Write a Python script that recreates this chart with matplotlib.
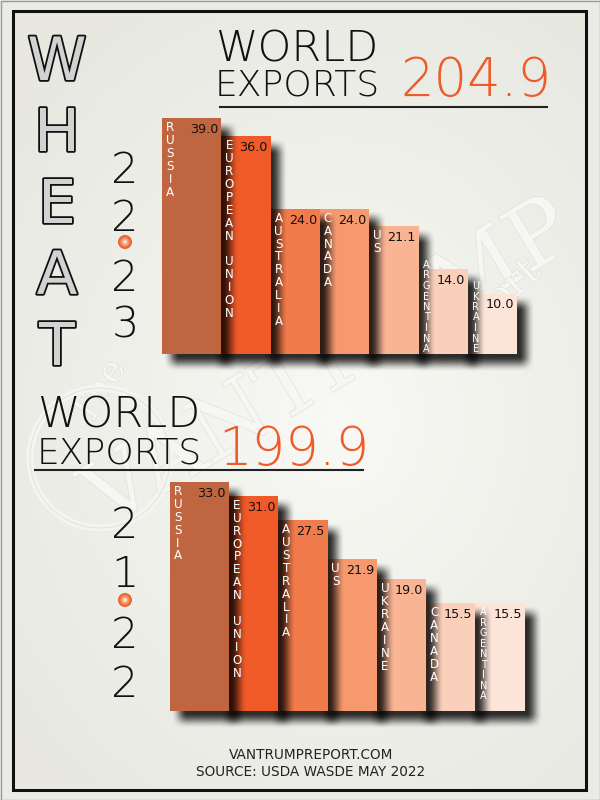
"""Wheat world exports 22/23 vs 21/22 — two stepped bar charts on one poster."""

import matplotlib

matplotlib.use("Agg")
import matplotlib.pyplot as plt
import matplotlib.patheffects as pe
from matplotlib.patches import Rectangle, Circle
from matplotlib.transforms import offset_copy
import numpy as np

# ---- data ----
countries_2223 = ["RUSSIA", "EUROPEAN UNION", "AUSTRALIA", "CANADA", "US", "ARGENTINA", "UKRAINE"]
exports_2223 = [39.0, 36.0, 24.0, 24.0, 21.1, 14.0, 10.0]
total_2223 = 204.9

countries_2122 = ["RUSSIA", "EUROPEAN UNION", "AUSTRALIA", "US", "UKRAINE", "CANADA", "ARGENTINA"]
exports_2122 = [33.0, 31.0, 27.5, 21.9, 19.0, 15.5, 15.5]
total_2122 = 199.9

bar_colors = ["#bf6641", "#f05a28", "#f27b4b", "#f6996f", "#f9b494", "#fbd0bb", "#fde4d8"]
ORANGE = "#f05a28"

W, H = 600, 800
fig = plt.figure(figsize=(6, 8), dpi=100)
fig.patch.set_facecolor("#eaeae6")

# background layer in pixel coords
bg = fig.add_axes([0, 0, 1, 1])
bg.set_xlim(0, W)
bg.set_ylim(H, 0)
bg.axis("off")

yy, xx = np.mgrid[0:H, 0:W]
r = np.clip(np.hypot((xx - 340) / 430, (yy - 420) / 500), 0, 1)
center_c = np.array([0.975, 0.975, 0.96])
edge_c = np.array([0.91, 0.91, 0.885])
grad = center_c * (1 - r[..., None]) + edge_c * r[..., None]
bg.imshow(grad, extent=(13, 587, 790, 11), aspect="auto", zorder=0)
bg.add_patch(Rectangle((0.5, 0.5), W - 1, H - 1, fill=False, ec="#9a9a9a", lw=1, zorder=1))
bg.add_patch(Rectangle((13, 11), 573, 779, fill=False, ec="#111111", lw=2.2, zorder=1))

# faint watermark
wm = [pe.withStroke(linewidth=1.0, foreground="#e2e2dc")]
bg.text(330, 365, "VANTRUMP", rotation=31, fontsize=64, family="DejaVu Serif",
        color="#f6f6f2", ha="center", va="center", zorder=2, path_effects=wm)
bg.text(485, 312, "Report", rotation=42, fontsize=28, family="DejaVu Serif",
        color="#f6f6f2", ha="center", va="center", zorder=2, path_effects=wm)
bg.text(100, 392, "The", rotation=58, fontsize=26, family="DejaVu Serif",
        color="#f6f6f2", ha="center", va="center", zorder=2, path_effects=wm)
bg.add_patch(Circle((100, 458), 70, fill=False, ec="#f4f4f0", lw=5, zorder=2))
bg.add_patch(Circle((100, 458), 70, fill=False, ec="#e2e2dc", lw=0.7, zorder=2))

# WHEAT column
for k, ch in enumerate("WHEAT"):
    bg.text(57, 80 + 71.3 * k, ch, fontsize=43, ha="center", va="baseline",
            family="DejaVu Sans", color="#d2d2d2", zorder=3,
            path_effects=[pe.Stroke(linewidth=2.6, foreground="#111111"), pe.Normal()])

TITLE = dict(family="DejaVu Sans", weight="light", zorder=3)


def year_column(digits, baselines, dot_y):
    for d, yb in zip(digits, baselines):
        bg.text(125, yb, d, fontsize=31, ha="center", va="baseline", color="#111111", **TITLE)
    for rad, col in [(7, "#e8622e"), (5.5, "#f07a48"), (4, "#f49a70"), (2.5, "#f8c4a8"), (1.2, "#fde6da")]:
        bg.add_patch(Circle((125, dot_y), rad, color=col, lw=0, zorder=3))


def title_block(x, y_world, y_exports, x_num, y_num, total, line_x, line_y):
    bg.text(x, y_world, "WORLD", fontsize=31, ha="left", va="baseline", color="#111111", **TITLE)
    bg.text(x, y_exports, "EXPORTS", fontsize=26, ha="left", va="baseline", color="#111111", **TITLE)
    bg.text(x_num, y_num, f"{total:.1f}", fontsize=38, ha="left", va="baseline", color=ORANGE, **TITLE)
    bg.plot(line_x, [line_y, line_y], color="#222222", lw=1.5, zorder=3)


title_block(215, 62, 95, 400, 96, total_2223, [220, 547], 107)
title_block(37, 428, 463, 218, 465, total_2122, [35, 363], 470)
year_column(["2", "2", "2", "3"], [183, 231, 291, 338], 242)
year_column(["2", "1", "2", "2"], [538, 587, 648, 697], 600)

bg.text(311, 759, "VANTRUMPREPORT.COM", fontsize=9.8, ha="center", va="baseline",
        family="DejaVu Sans", color="#222222", zorder=3)
bg.text(311, 776, "SOURCE: USDA WASDE MAY 2022", fontsize=9.8, ha="center", va="baseline",
        family="DejaVu Sans", color="#222222", zorder=3)


def smooth(t):
    return t * t * (3 - 2 * t)


def add_shadow(ax, left, width, height, step_px, unit_px, z):
    dx, dy = 9 / step_px, 10 / unit_px
    bx, by = 8 / step_px, 8 / unit_px
    x0, x1 = left + dx, left + width + dx
    y0, y1 = -dy, height - dy
    xs = np.linspace(x0 - bx, x1 + bx, 160)
    ys = np.linspace(y0 - by, y1 + by, 260)
    ax_ = smooth(np.clip((xs - (x0 - bx)) / (2 * bx), 0, 1)) * smooth(np.clip(((x1 + bx) - xs) / (2 * bx), 0, 1))
    ay_ = smooth(np.clip((ys - (y0 - by)) / (2 * by), 0, 1)) * smooth(np.clip(((y1 + by) - ys) / (2 * by), 0, 1))
    rgba = np.zeros((len(ys), len(xs), 4))
    rgba[..., 3] = np.outer(ay_, ax_) * 0.82
    ax.imshow(rgba, extent=(xs[0], xs[-1], ys[0], ys[-1]), origin="lower",
              aspect="auto", zorder=z, interpolation="bilinear")


def bar_chart(names, values, x0_px, step_px, base_px, unit_px, ymax):
    xlim = (-0.6, 8.0)
    ylim = (-4.0, ymax)
    left = x0_px + xlim[0] * step_px
    right = x0_px + xlim[1] * step_px
    bot = base_px - ylim[0] * unit_px
    top = base_px - ylim[1] * unit_px
    ax = fig.add_axes([left / W, 1 - bot / H, (right - left) / W, (bot - top) / H])
    ax.patch.set_alpha(0)
    ax.axis("off")

    n = len(values)
    wbar = 1.2
    for i, (name, v) in enumerate(zip(names, values)):
        z = 10 + 2 * (n - i)
        ax.bar([i - 0.2], [v], width=wbar, align="edge", color=bar_colors[i], lw=0, zorder=z + 1)
        add_shadow(ax, i - 0.2, wbar, v, step_px, unit_px, z)

        # value label, top-right of the bar
        tr = offset_copy(ax.transData, fig=fig, x=-3, y=-15, units="dots")
        ax.text(i + 1.0, v, f"{v:.1f}", transform=tr, ha="right", va="baseline",
                fontsize=9.2, color="#111111", family="DejaVu Sans", zorder=100)

        # stacked country letters down the left edge
        h_px = v * unit_px
        letters = list(name)
        m = len(letters)
        fs, cap, pitch = 8.6, 8, 12.9
        if 5 + m * pitch > h_px:
            fs, cap, pitch = 7.0, 7, 10.5
        first = 5 + cap
        if first + (m - 1) * pitch + 2 > h_px:
            first = h_px - 2 - (m - 1) * pitch
        vis_left = i - 0.2 if i == 0 else i
        for k, ch in enumerate(letters):
            if ch == " ":
                continue
            tr = offset_copy(ax.transData, fig=fig, x=8, y=-(first + k * pitch), units="dots")
            ax.text(vis_left, v, ch, transform=tr, ha="center", va="baseline",
                    fontsize=fs, color="white", family="DejaVu Sans", zorder=100)
    ax.set_xlim(*xlim)
    ax.set_ylim(*ylim)
    return ax


bar_chart(countries_2223, exports_2223, 172.0, 49.3, 354, 6.05, 42)
bar_chart(countries_2122, exports_2122, 179.7, 49.3, 711, 6.94, 36)

fig.savefig("out.png", dpi=100)
